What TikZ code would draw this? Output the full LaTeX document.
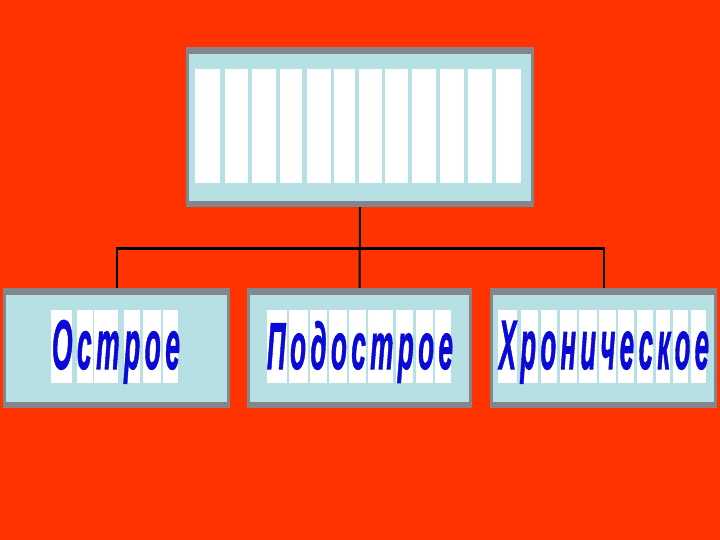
\documentclass[tikz,border=0pt]{standalone}
\usepackage{fontspec}
\setmainfont{Liberation Sans}
\newfontfamily\wordfont[LetterSpace=17,FakeBold=1.5]{Liberation Sans}
\definecolor{bgred}{RGB}{255,51,0}
\definecolor{boxgray}{RGB}{132,134,142}
\definecolor{boxblue}{RGB}{182,224,228}
\definecolor{wordblue}{RGB}{10,10,215}
\newcommand{\wordtext}[3]{\resizebox{#1pt}{#2pt}{\wordfont\bfseries\itshape\fontsize{68}{68}\selectfont #3}}
\tikzset{
  panel/.style={draw=none, fill=boxgray, inner sep=0pt, rectangle},
  strip/.style={fill=white, draw=none},
  vlink/.style={draw=black, line width=2pt},
  hlink/.style={draw=black, line width=3pt},
  word/.style={text=wordblue, inner sep=0pt, anchor=base}
}
\newcommand{\inner}[1]{\fill[boxblue] ([xshift=3pt,yshift=-7pt]#1.north west) rectangle ([xshift=-3pt,yshift=6pt]#1.south east);}
\begin{document}
\begin{tikzpicture}[x=1pt,y=-1pt]
\useasboundingbox (0,0) rectangle (720,540);
\fill[bgred] (0,0) rectangle (720,540);
% boxes
\node[panel, minimum width=348pt, minimum height=160pt] (top) at (360,127) {};
\node[panel, minimum width=227pt, minimum height=120pt] (b1) at (116.5,348) {};
\node[panel, minimum width=225pt, minimum height=120pt] (b2) at (359.5,348) {};
\node[panel, minimum width=227pt, minimum height=120pt] (b3) at (603.5,348) {};
\inner{top}\inner{b1}\inner{b2}\inner{b3}
% strips in top box
\foreach \a/\b in {195/220,225/248,252/276,280/302,307/331,334/355,359/382,385/408,412/436,440/464,468/492,496/521}
  \fill[strip] (\a,69) rectangle (\b,183);
% strips in bottom boxes
\foreach \a/\b in {50.7/71.7,76.7/92.7,94.3/118.3,124.3/140,142.7/160.7,163.3/177.7,
  266.7/286.7,289.3/308.3,310/327.3,329.3/346.7,349/366,368.3/393.3,396/413.3,415.7/432.7,435/450.7,
  498.3/516.7,520.7/538.3,540.7/557.3,560/576.7,579.3/596.7,599/616,618.3/634.3,636.7/653.3,655.7/670,672.7/688.3,691/706}
  \fill[strip] (\a,310) rectangle (\b,383);
% words
\node[word] (w1) at (116,369) {\wordtext{128}{49}{Острое}};
\node[word] (w2) at (360,369) {\wordtext{186}{48}{Подострое}};
\node[word] (w3) at (604,369) {\wordtext{210}{48}{Хроническое}};
% connectors
\coordinate (hj) at (360,248);
\draw[vlink] (top.south) -- (b2.north);
\draw[vlink] (b1.north) -- (b1.north |- hj);
\draw[vlink] (b3.north) -- (b3.north |- hj);
\draw[hlink] ([xshift=-1pt]b1.north |- hj) -- ([xshift=1pt]b3.north |- hj);
\end{tikzpicture}
\end{document}
